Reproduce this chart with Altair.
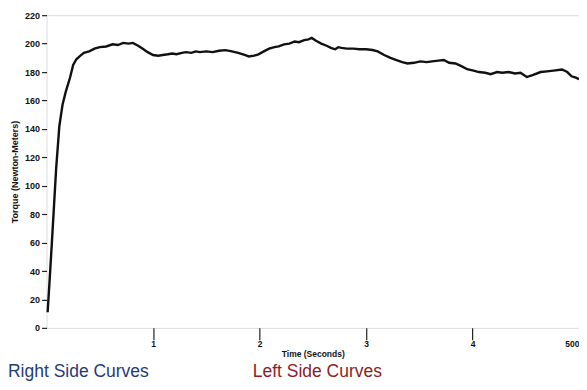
import altair as alt
import pandas as pd

times = [0.01, 0.03, 0.05, 0.07, 0.09, 0.12, 0.15, 0.18, 0.22, 0.25, 0.28, 0.31, 0.35, 0.40,
         0.45, 0.50, 0.56, 0.62, 0.67, 0.72, 0.77, 0.81, 0.86, 0.90, 0.95, 1.00, 1.05, 1.09,
         1.14, 1.18, 1.22, 1.27, 1.31, 1.36, 1.40, 1.44, 1.50, 1.56, 1.62, 1.68, 1.74, 1.80,
         1.86, 1.90, 1.95, 1.99, 2.04, 2.09, 2.14, 2.18, 2.23, 2.28, 2.33, 2.37, 2.42, 2.46,
         2.49, 2.53, 2.58, 2.63, 2.67, 2.71, 2.74, 2.77, 2.82, 2.88, 2.94, 3.00, 3.06, 3.11,
         3.17, 3.23, 3.28, 3.34, 3.39, 3.45, 3.51, 3.57, 3.62, 3.68, 3.73, 3.78, 3.84, 3.90,
         3.95, 4.01, 4.06, 4.12, 4.17, 4.23, 4.28, 4.34, 4.40, 4.45, 4.51, 4.57, 4.64, 4.70,
         4.76, 4.84, 4.89, 4.93, 4.97, 5.00]
torque = [11, 35, 60, 86, 112, 142, 157, 166, 176, 185, 189, 191, 193.5, 194.5,
          196.5, 197.5, 198, 199.5, 199, 200.5, 200, 200.5, 198.5, 196.5, 194, 192, 191.5, 192,
          192.5, 193, 192.5, 193.5, 194, 193.5, 194.5, 194, 194.5, 194, 195, 195.4, 194.5, 193.5,
          192, 191, 191.5, 192.5, 194.5, 196.5, 197.5, 198, 199.5, 200, 201.5, 201, 202.5, 203,
          204, 202, 200, 198.5, 197, 196, 197.5, 197, 196.5, 196.5, 196, 196, 195.5, 194.5,
          192, 190, 188.5, 187, 186, 186.5, 187.5, 187, 187.5, 188, 188.5, 186.5, 186, 184,
          182, 181, 180, 179.5, 178.5, 180, 179.5, 180, 179, 179.5, 176.5, 178, 180, 180.5,
          181, 181.8, 180, 177, 176, 175]

x_ticks = [1, 2, 3, 4, 5]
y_ticks = [0, 20, 40, 60, 80, 100, 120, 140, 160, 180, 200, 220]

captions = ["Right Side Curves", "Left Side Curves"]
caption_colors = ["#1f3c78", "#8c1d26"]

df = pd.DataFrame({"t": times, "torque": torque})

W = 533
H = 313

line = alt.Chart(df).mark_line(color="#111111", strokeWidth=2.4).encode(
    x=alt.X("t:Q", scale=alt.Scale(domain=[0, 5], nice=False),
            axis=alt.Axis(values=x_ticks, title="Time (Seconds)",
                          labelExpr="datum.value == 5 ? '500' : datum.label",
                          tickColor={"condition": {"test": "datum.value == 5", "value": "transparent"},
                                     "value": "#222222"},
                          format="d", domain=False, grid=False, tickSize=12,
                          tickWidth=1.2, labelPadding=0,
                          labelFont="Liberation Sans", labelFontWeight="bold",
                          labelFontSize=8.5, labelColor="#111111",
                          titleFont="Liberation Sans", titleFontWeight="bold",
                          titleFontSize=8.5, titleColor="#111111", titlePadding=1)),
    y=alt.Y("torque:Q", scale=alt.Scale(domain=[0, 220], nice=False),
            axis=alt.Axis(values=y_ticks, title="Torque (Newton-Meters)",
                          domain=False, grid=False, tickSize=5, tickColor="#222222",
                          tickWidth=1.2, labelPadding=2,
                          labelFont="Liberation Sans", labelFontWeight="bold",
                          labelFontSize=9, labelColor="#111111",
                          titleFont="Liberation Sans", titleFontWeight="bold",
                          titleFontSize=9, titleColor="#111111", titlePadding=5)),
)

cap_df = pd.DataFrame({"text": captions, "color": caption_colors,
                       "px": [-38.6, 206.4]})

caps = alt.Chart(cap_df).mark_text(
    align="left", baseline="alphabetic", font="Liberation Sans", fontSize=17.5
).encode(
    x=alt.X("px:Q", scale=None),
    y=alt.value(H + 49),
    text="text:N",
    color=alt.Color("color:N", scale=None),
)

chart = alt.layer(line, caps).properties(
    width=W, height=H,
    autosize=alt.AutoSizeParams(type="none"),
    padding={"left": 38.6, "top": 7, "right": 0, "bottom": 54},
).configure_view(stroke=None).configure(background="white")

chart.save("out.html", embed_options={"renderer": "svg", "actions": False})
